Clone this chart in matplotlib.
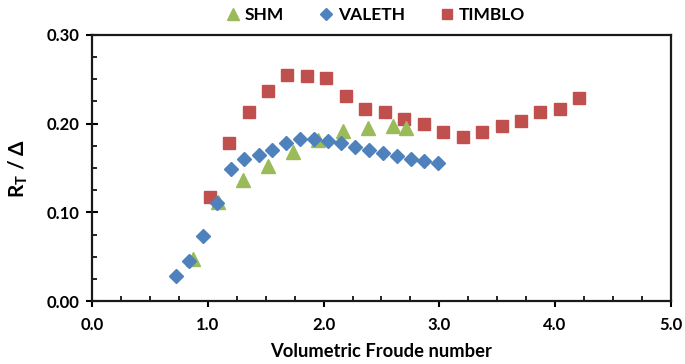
import matplotlib
matplotlib.use("Agg")
import matplotlib.pyplot as plt
from matplotlib.ticker import MultipleLocator, FormatStrFormatter

plt.rcParams['font.family'] = ['Lato', 'DejaVu Sans']
plt.rcParams['font.weight'] = 'bold'
plt.rcParams['mathtext.fontset'] = 'custom'
plt.rcParams['mathtext.bf'] = 'Lato:bold'
plt.rcParams['mathtext.rm'] = 'Lato:bold'

# SHM
shm_x = [0.873, 1.084, 1.300, 1.519, 1.732, 1.951, 2.164, 2.380, 2.599, 2.709]
shm_y = [0.048, 0.112, 0.137, 0.152, 0.168, 0.182, 0.192, 0.195, 0.197, 0.195]

# VALETH
valeth_x = [0.721, 0.838, 0.959, 1.075, 1.199, 1.314, 1.441, 1.556, 1.677, 1.795,
            1.916, 2.035, 2.152, 2.273, 2.392, 2.513, 2.631, 2.752, 2.869, 2.990]
valeth_y = [0.029, 0.045, 0.074, 0.111, 0.149, 0.160, 0.165, 0.170, 0.178, 0.183,
            0.183, 0.180, 0.178, 0.174, 0.170, 0.167, 0.163, 0.160, 0.158, 0.156]

# TIMBLO
timblo_x = [1.015, 1.181, 1.352, 1.519, 1.683, 1.853, 2.022, 2.190, 2.360, 2.530,
            2.697, 2.864, 3.031, 3.201, 3.368, 3.538, 3.705, 3.872, 4.040, 4.209]
timblo_y = [0.117, 0.178, 0.213, 0.237, 0.255, 0.254, 0.251, 0.231, 0.216, 0.213,
            0.205, 0.200, 0.191, 0.185, 0.190, 0.197, 0.203, 0.213, 0.216, 0.229]

fig = plt.figure(figsize=(6.85, 3.64), dpi=100)
ax = fig.add_axes([0.1347, 0.1723, 0.979 - 0.1347, 0.9047 - 0.1723])

ax.plot(shm_x, shm_y, linestyle='none', marker='^', ms=10, color='#9BBB59', label='SHM', zorder=3)
ax.plot(valeth_x, valeth_y, linestyle='none', marker='D', ms=7.5, color='#4F81BD', label='VALETH', zorder=4)
ax.plot(timblo_x, timblo_y, linestyle='none', marker='s', ms=9, color='#C0504D', label='TIMBLO', zorder=2)

ax.set_xlim(0, 5)
ax.set_ylim(0, 0.30)
ax.xaxis.set_major_locator(MultipleLocator(1.0))
ax.xaxis.set_minor_locator(MultipleLocator(0.25))
ax.yaxis.set_major_locator(MultipleLocator(0.10))
ax.yaxis.set_minor_locator(MultipleLocator(0.025))
ax.xaxis.set_major_formatter(FormatStrFormatter('%.1f'))
ax.yaxis.set_major_formatter(FormatStrFormatter('%.2f'))

for s in ax.spines.values():
    s.set_linewidth(1.6)
    s.set_color('#1a1a1a')
ax.tick_params(which='major', direction='inout', length=8.6, width=1.5, labelsize=12)
ax.tick_params(which='minor', direction='in', length=3.5, width=1.2)
ax.tick_params(axis='y', which='major', pad=5)
ax.tick_params(axis='x', which='major', direction='out', length=4.5, pad=7)

ax.set_xlabel('Volumetric Froude number', fontsize=13.2, fontweight='bold', labelpad=7)
ax.set_ylabel(r'R$_\mathbf{T}$ / Δ', fontsize=15, fontweight='bold', labelpad=12)

leg = ax.legend(loc='center', bbox_to_anchor=(0.49, 1.075), ncol=3, frameon=False,
                fontsize=12.5, handlelength=0.8, handletextpad=0.25, columnspacing=2.05,
                markerscale=0.85, borderaxespad=0, borderpad=0)
for t in leg.get_texts():
    t.set_fontweight('bold')

fig.savefig('out.png', dpi=100)
